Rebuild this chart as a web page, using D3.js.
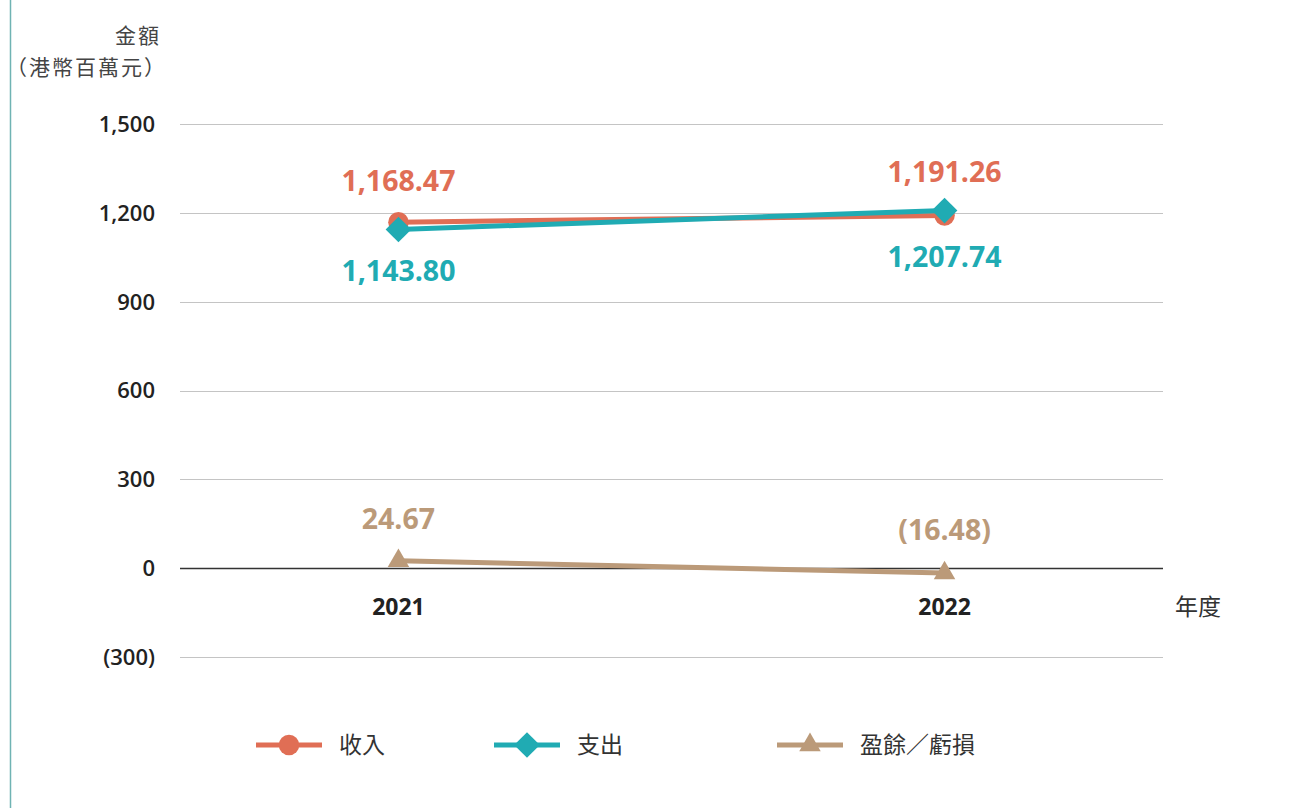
<!DOCTYPE html>
<html>
<head>
<meta charset="utf-8">
<script src="https://cdn.jsdelivr.net/npm/d3@7"></script>
<style>
  body { margin: 0; background: #fff; }
  svg text { font-family: "Open Sans", "Noto Sans CJK TC", sans-serif; }
  .cjk { font-family: "Noto Sans CJK TC", sans-serif !important; }
</style>
</head>
<body>
<svg id="chart" width="1306" height="808"></svg>
<script>
var years = ["2021", "2022"];
var income = [1168.47, 1191.26];
var expense = [1143.80, 1207.74];
var surplus = [24.67, -16.48];
var yTicks = [-300, 0, 300, 600, 900, 1200, 1500];
var seriesNames = ["收入", "支出", "盈餘／虧損"];

var colors = ["#e06e55", "#20abb3", "#bb9a79"];

var svg = d3.select("#chart");

// teal rule at the left edge
svg.append("line")
  .attr("x1", 10.5).attr("x2", 10.5)
  .attr("y1", 0).attr("y2", 808)
  .attr("stroke", "#6fb3b3").attr("stroke-width", 1.5);

var x = d3.scalePoint().domain(years).range([180, 1163]).padding(0.4);
var y = d3.scaleLinear().domain([-300, 1500]).range([657, 124]);

/* grid */
svg.append("g").selectAll("line")
  .data(yTicks).enter()
  .append("line")
  .attr("x1", 180).attr("x2", 1163)
  .attr("y1", d => Math.round(y(d)) + 0.5)
  .attr("y2", d => Math.round(y(d)) + 0.5)
  .attr("stroke", d => d === 0 ? "#333" : "#c4c4c4")
  .attr("stroke-width", d => d === 0 ? 1.3 : 1);

/* y labels */
var fmt = function(v) {
  return v < 0 ? "(" + d3.format(",")(-v) + ")" : d3.format(",")(v);
};
svg.append("g").selectAll("text")
  .data(yTicks).enter()
  .append("text")
  .attr("x", 155)
  .attr("y", d => y(d))
  .attr("dy", "0.36em")
  .attr("text-anchor", "end")
  .attr("font-size", 22)
  .attr("font-weight", 600)
  .attr("fill", "#222")
  .text(fmt);

/* x labels */
svg.append("g").selectAll("text")
  .data(years).enter()
  .append("text")
  .attr("x", d => x(d))
  .attr("y", 615)
  .attr("text-anchor", "middle")
  .attr("font-size", 23)
  .attr("font-weight", 700)
  .attr("fill", "#222")
  .text(d => d);

svg.append("text").attr("class", "cjk")
  .attr("x", 1175).attr("y", 615)
  .attr("font-size", 23).attr("fill", "#333")
  .text("年度");

/* axis title */
svg.append("text").attr("class", "cjk")
  .attr("x", 161).attr("y", 43)
  .attr("text-anchor", "end")
  .attr("font-size", 21).attr("letter-spacing", 2).attr("fill", "#444")
  .text("金額");
svg.append("text").attr("class", "cjk")
  .attr("x", 167).attr("y", 75)
  .attr("text-anchor", "end")
  .attr("font-size", 21).attr("letter-spacing", 2).attr("fill", "#444")
  .text("（港幣百萬元）");

var line = d3.line()
  .x((d, i) => x(years[i]))
  .y(d => y(d));

var sym = [d3.symbolCircle, d3.symbolDiamond2, d3.symbolTriangle2];
var symSize = [330, 420, 330];

function drawSeries(vals, k) {
  svg.append("path")
    .attr("d", line(vals))
    .attr("fill", "none")
    .attr("stroke", colors[k])
    .attr("stroke-width", 5);
  svg.append("g").selectAll("path")
    .data(vals).enter()
    .append("path")
    .attr("d", d3.symbol().type(sym[k]).size(symSize[k]))
    .attr("transform", (d, i) => "translate(" + x(years[i]) + "," + y(d) + ")")
    .attr("fill", colors[k]);
}

drawSeries(surplus, 2);
drawSeries(income, 0);
drawSeries(expense, 1);

/* value labels */
var labelFmt = function(v) {
  var s = d3.format(",.2f")(Math.abs(v));
  return v < 0 ? "(" + s + ")" : s;
};
var labelOff = [[-41, -44], [41, 46], [-42, -43]];
[income, expense, surplus].forEach(function(vals, k) {
  svg.append("g").selectAll("text")
    .data(vals).enter()
    .append("text")
    .attr("x", (d, i) => x(years[i]))
    .attr("y", (d, i) => y(d) + labelOff[k][i])
    .attr("dy", "0.36em")
    .attr("text-anchor", "middle")
    .attr("font-size", 28.5)
    .attr("font-weight", 700)
    .attr("fill", colors[k])
    .text(labelFmt);
});

/* legend */
var legX = [256, 494, 777];
var leg = svg.append("g");
seriesNames.forEach(function(name, k) {
  var g = leg.append("g").attr("transform", "translate(" + legX[k] + ",745)");
  g.append("line").attr("x1", 0).attr("x2", 66)
    .attr("stroke", colors[k]).attr("stroke-width", 5);
  g.append("path")
    .attr("d", d3.symbol().type(sym[k]).size(symSize[k]))
    .attr("transform", "translate(33,0)")
    .attr("fill", colors[k]);
  g.append("text").attr("class", "cjk")
    .attr("x", 83).attr("y", 0).attr("dy", "0.36em")
    .attr("font-size", 23).attr("fill", "#333")
    .text(name);
});
</script>
</body>
</html>
